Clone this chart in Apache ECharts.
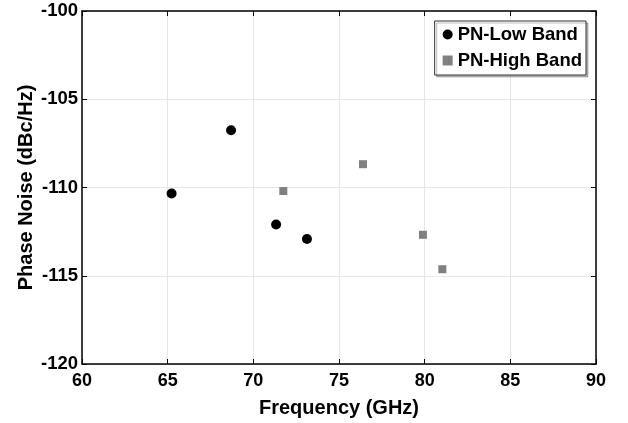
<!DOCTYPE html>
<html>
<head>
<meta charset="utf-8">
<script src="https://cdn.jsdelivr.net/npm/echarts@6/dist/echarts.min.js"></script>
<style>
  html, body { margin: 0; padding: 0; background: #fff; }
  #chart { width: 628px; height: 423px; }
</style>
</head>
<body>
<div id="chart"></div>
<script>
// 数据
const lowBandFreq = [65.23, 68.7, 71.33, 73.13];
const lowBandPN = [-110.34, -106.76, -112.1, -112.92];
const highBandFreq = [71.75, 76.4, 79.9, 81.03];
const highBandPN = [-110.2, -108.68, -112.68, -114.63];
const xTicks = [60, 90, 5];
const yTicks = [-120, -100, 5];

const FONT = 'Liberation Sans';
const chart = echarts.init(document.getElementById('chart'));

const pair = (xs, ys) => xs.map((x, i) => [x, ys[i]]);

// 边框 + 刻度朝内
const frameAxis = (extra) => Object.assign({
  axisLine: { show: true, onZero: false, lineStyle: { color: '#000', width: 1.5 } },
  axisTick: { show: true, inside: true, length: 5, lineStyle: { color: '#000', width: 1 } },
  axisLabel: { show: false },
  splitLine: { show: false }
}, extra);

const option = {
  animation: false,
  backgroundColor: '#fff',
  grid: { left: 82, top: 11, width: 514, height: 355 },
  legend: {
    orient: 'vertical',
    right: 42,
    top: 21,
    padding: [4, 4, 5, 8],
    itemGap: 7,
    itemWidth: 10,
    itemHeight: 10,
    borderColor: '#333',
    borderWidth: 1,
    backgroundColor: '#fff',
    shadowColor: 'rgba(0,0,0,0.25)',
    shadowOffsetX: 2,
    shadowOffsetY: 2,
    textStyle: { fontFamily: FONT, fontWeight: 'bold', fontSize: 18.5, color: '#000' },
    data: [
      { name: 'PN-Low Band', icon: 'circle' },
      { name: 'PN-High Band', icon: 'rect' }
    ]
  },
  xAxis: [
    frameAxis({
      type: 'value', position: 'bottom',
      min: xTicks[0], max: xTicks[1], interval: xTicks[2],
      name: 'Frequency (GHz)', nameLocation: 'middle', nameGap: 34, nameMoveOverlap: false,
      nameTextStyle: { fontFamily: FONT, fontWeight: 'bold', fontSize: 20, color: '#000' },
      axisLabel: { show: true, margin: 8, fontFamily: FONT, fontWeight: 'bold', fontSize: 18, color: '#000' },
      splitLine: { show: true, lineStyle: { color: '#e6e6e6', width: 1 } }
    }),
    frameAxis({
      type: 'value', position: 'top',
      min: xTicks[0], max: xTicks[1], interval: xTicks[2]
    })
  ],
  yAxis: [
    frameAxis({
      type: 'value', position: 'left',
      min: yTicks[0], max: yTicks[1], interval: yTicks[2],
      name: 'Phase Noise (dBc/Hz)', nameLocation: 'middle', nameGap: 46, nameMoveOverlap: false,
      nameTextStyle: { fontFamily: FONT, fontWeight: 'bold', fontSize: 20, color: '#000' },
      axisLabel: { show: true, margin: 4, fontFamily: FONT, fontWeight: 'bold', fontSize: 18.5, color: '#000' },
      splitLine: { show: true, lineStyle: { color: '#e6e6e6', width: 1 } }
    }),
    frameAxis({
      type: 'value', position: 'right',
      min: yTicks[0], max: yTicks[1], interval: yTicks[2]
    })
  ],
  series: [
    {
      name: 'PN-Low Band',
      type: 'scatter',
      symbol: 'circle',
      symbolSize: 10,
      itemStyle: { color: '#000', opacity: 1 },
      data: pair(lowBandFreq, lowBandPN)
    },
    {
      name: 'PN-High Band',
      type: 'scatter',
      symbol: 'rect',
      symbolSize: 8,
      itemStyle: { color: '#808080', opacity: 1 },
      data: pair(highBandFreq, highBandPN)
    }
  ]
};

chart.setOption(option);
</script>
</body>
</html>
